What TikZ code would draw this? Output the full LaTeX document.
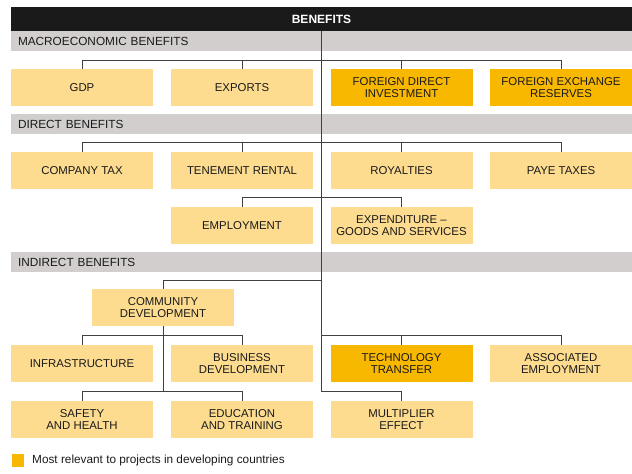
\documentclass[tikz,border=0pt]{standalone}
\usepackage{fontspec}
\setmainfont{Liberation Sans}
\usepackage{tikz}
\definecolor{pale}{HTML}{FDDC90}
\definecolor{gold}{HTML}{F9B800}
\definecolor{bar}{HTML}{D2CECE}
\definecolor{ink}{HTML}{1A1A1A}
\newcommand{\trunk}[0] {321.5}
\tikzset{
  benefit/.style={fill=pale, minimum width=142pt, minimum height=36.7pt, inner sep=0pt,
    align=center, text=ink, font=\fontsize{11.4}{12}\selectfont},
  relevant/.style={benefit, fill=gold},
  heading/.style={fill=bar, minimum width=621pt, minimum height=20pt, inner ysep=0pt,
    inner xsep=7pt, text width=607pt, align=left, text=ink, font=\fontsize{11.8}{13}\selectfont},
  title/.style={fill=ink, minimum width=621pt, minimum height=24pt, inner sep=0pt,
    text=white, font=\fontsize{12}{14}\selectfont\bfseries},
  link/.style={draw=black!75, line width=1pt},
}

\begin{document}
\begin{tikzpicture}[x=1pt, y=-1pt]
        \useasboundingbox (0,0) rectangle (632,474);
        %bars
        \node[title] (benefits) at (321.5,19)     {BENEFITS};
        \node[heading] (macro) at (321.5,41)     {MACROECONOMIC BENEFITS};
        \node[heading] (direct) at (321.5,124)     {DIRECT BENEFITS};
        \node[heading] (indirect) at (321.5,262)     {INDIRECT BENEFITS};
        %macroeconomic benefits
        \node[benefit] (gdp) at (82,87.3)     {GDP};
        \node[benefit] (exports) at (242,87.3)     {EXPORTS};
        \node[relevant] (fdi) at (401.5,87.3)     {FOREIGN DIRECT\\INVESTMENT};
        \node[relevant] (reserves) at (561,87.3)     {FOREIGN EXCHANGE\\RESERVES};
        %direct benefits
        \node[benefit] (tax) at (82,170.3)     {COMPANY TAX};
        \node[benefit] (rental) at (242,170.3)     {TENEMENT RENTAL};
        \node[benefit] (royalties) at (401.5,170.3)     {ROYALTIES};
        \node[benefit] (paye) at (561,170.3)     {PAYE TAXES};
        \node[benefit] (employment) at (242,225.3)     {EMPLOYMENT};
        \node[benefit] (expenditure) at (401.5,225.3)     {EXPENDITURE --\\GOODS AND SERVICES};
        %indirect benefits
        \node[benefit] (community) at (163,307.3)     {COMMUNITY\\DEVELOPMENT};
        \node[benefit] (infra) at (82,363.3)     {INFRASTRUCTURE};
        \node[benefit] (business) at (242,363.3)     {BUSINESS\\DEVELOPMENT};
        \node[relevant] (technology) at (401.5,363.3)     {TECHNOLOGY\\TRANSFER};
        \node[benefit] (associated) at (561,363.3)     {ASSOCIATED\\EMPLOYMENT};
        \node[benefit] (safety) at (82,419.3)     {SAFETY\\AND HEALTH};
        \node[benefit] (education) at (242,419.3)     {EDUCATION\\AND TRAINING};
        \node[benefit] (multiplier) at (401.5,419.3)     {MULTIPLIER\\EFFECT};
        %legend
        \node[fill=gold, minimum width=12pt, minimum height=13pt, inner sep=0pt] (key) at (18,460)     {};
        \node[anchor=west, inner sep=0pt, text=ink, font=\fontsize{11.8}{13}\selectfont] (keytext) at (32,460.5)     {Most relevant to projects in developing countries};
        %junctions
        \coordinate (macrobus) at (\trunk,60);
        \coordinate (directbus) at (\trunk,142);
        \coordinate (directbus2) at (\trunk,197.7);
        \coordinate (indirectbus) at (\trunk,280);
        \coordinate (rightbus) at (\trunk,335.3);
        \coordinate (rightbus2) at (\trunk,391.7);
        \coordinate (leftbus) at (163,335.3);
        \coordinate (leftbus2) at (163,391.7);
        %trunk
        \draw[link] (benefits.south) -- (rightbus2);
        %macroeconomic edges
        \draw[link] (macrobus) -| (gdp.north);
        \draw[link] (macrobus) -| (exports.north);
        \draw[link] (macrobus) -| (fdi.north);
        \draw[link] (macrobus) -| (reserves.north);
        %direct edges
        \draw[link] (directbus) -| (tax.north);
        \draw[link] (directbus) -| (rental.north);
        \draw[link] (directbus) -| (royalties.north);
        \draw[link] (directbus) -| (paye.north);
        \draw[link] (directbus2) -| (employment.north);
        \draw[link] (directbus2) -| (expenditure.north);
        %indirect edges
        \draw[link] (indirectbus) -| (community.north);
        \draw[link] (community.south) -- (leftbus2);
        \draw[link] (leftbus) -| (infra.north);
        \draw[link] (leftbus) -| (business.north);
        \draw[link] (leftbus2) -| (safety.north);
        \draw[link] (leftbus2) -| (education.north);
        \draw[link] (rightbus) -| (technology.north);
        \draw[link] (rightbus) -| (associated.north);
        \draw[link] (rightbus2) -| (multiplier.north);
\end{tikzpicture}
\end{document}
